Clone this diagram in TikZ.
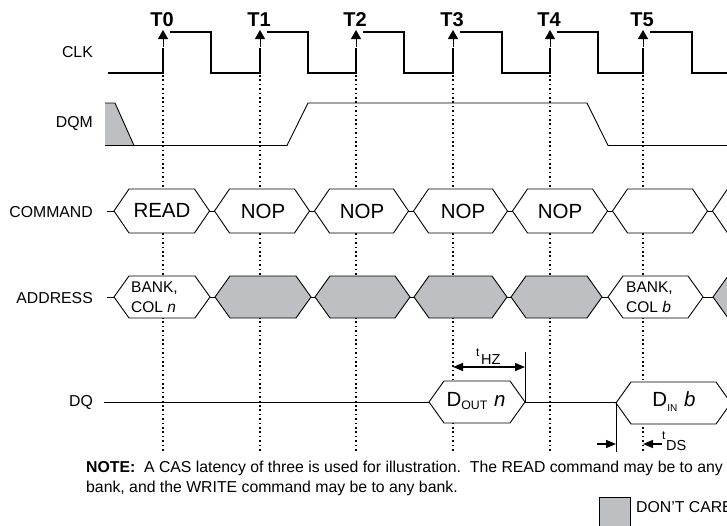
\documentclass[tikz,border=0pt]{standalone}
\usepackage{fontspec}
\setmainfont{Liberation Sans}
\usetikzlibrary{arrows.meta}
\definecolor{dcgray}{RGB}{190,191,194}
\newcommand\hexshape[5]{%
  \filldraw[fill=#5, draw=black, line width=0.9pt] (#1,{(#3+#4)/2}) -- ({#1+15},#3) -- ({#2-15},#3) -- (#2,{(#3+#4)/2}) -- ({#2-15},#4) -- ({#1+15},#4) -- cycle;}
\begin{document}
\begin{tikzpicture}[x=1pt,y=-1pt,
  clk/.style={line width=1.8pt},
  thin/.style={line width=0.9pt},
  dotline/.style={line width=1.5pt, dash pattern=on 1.5pt off 2.9pt},
  edgearrow/.style={line width=0.9pt, -{Triangle[length=9pt,width=10pt]}},
  lbl/.style={font=\fontsize{15.8}{18}\selectfont, anchor=east, inner sep=0pt},
  tlbl/.style={font=\fontsize{20}{22}\selectfont\bfseries, inner sep=0pt},
  cmd/.style={font=\fontsize{20.5}{22}\selectfont, inner sep=0pt},
  addr/.style={font=\fontsize{15.5}{20}\selectfont, anchor=west, align=left, inner sep=0pt},
  note/.style={font=\fontsize{15.8}{18}\selectfont, anchor=base west, inner sep=0pt},
  small/.style={font=\fontsize{14.5}{16}\selectfont, inner sep=0pt},
  tiny/.style={font=\fontsize{12}{12}\selectfont, inner sep=0pt},
  timarrow/.style={line width=1.3pt, -{Triangle[length=10pt,width=8pt]}}
]
\useasboundingbox (0,0) rectangle (727,525);
\clip (0,0) rectangle (727,525);

% dotted reference lines
\foreach \t/\x in {0/163,1/260,2/356,3/453,4/550,5/643}{
  \coordinate (d\t top) at (\x,75);
  \coordinate (d\t bot) at (\x,452);
  \draw[dotline] (d\t top) -- (d\t bot);
}

% signal labels
\node[lbl] (lclk) at (93,52) {CLK};
\node[lbl] (ldqm) at (93,123) {DQM};
\node[lbl] (lcmd) at (93,212) {COMMAND};
\node[lbl] (ladr) at (93,298) {ADDRESS};
\node[lbl] (ldq) at (93,402) {DQ};

% clock
\draw[clk] (108,73) -- (163,73) -- (163,48);
\draw[clk] (170,32) -- (211,32) -- (211,73) -- (260,73) -- (260,48);
\draw[clk] (267,32) -- (308,32) -- (308,73) -- (356,73) -- (356,48);
\draw[clk] (363,32) -- (404,32) -- (404,73) -- (453,73) -- (453,48);
\draw[clk] (460,32) -- (502,32) -- (502,73) -- (550,73) -- (550,48);
\draw[clk] (557,32) -- (598,32) -- (598,73) -- (643,73) -- (643,48);
\draw[clk] (650,32) -- (692,32) -- (692,73) -- (727,73);
\foreach \t/\x in {0/163,1/260,2/356,3/453,4/550,5/643}{
  \coordinate (e\t a) at (\x,47);
  \coordinate (e\t b) at (\x,30);
  \draw[edgearrow] (e\t a) -- (e\t b);
  \node[tlbl] (T\t) at ({\x-1},20) {T\t};
}

% DQM
\fill[dcgray] (105,103) -- (115,103) -- (134,145.5) -- (105,145.5) -- cycle;
\draw[thin] (105,103) -- (115,103) -- (134,145.5) -- (287,145.5) -- (308,103) -- (587,103) -- (608,145.5) -- (727,145.5);
\draw[thin] (105,145.5) -- (134,145.5);

% COMMAND bus
\draw[thin] (107,211) -- (727,211);
\hexshape{114}{209.5}{189}{233}{white}
\hexshape{214.5}{309.5}{189}{233}{white}
\hexshape{314.5}{408.5}{189}{233}{white}
\hexshape{413.5}{507.5}{189}{233}{white}
\hexshape{512.5}{607.5}{189}{233}{white}
\hexshape{612.5}{707.5}{189}{233}{white}
\hexshape{712.5}{810}{189}{233}{white}
\node[cmd] (c0) at (162,210) {READ};
\node[cmd] (c1) at (263,211) {NOP};
\node[cmd] (c2) at (362,211) {NOP};
\node[cmd] (c3) at (463,211) {NOP};
\node[cmd] (c4) at (560,211) {NOP};

% ADDRESS bus
\draw[thin] (107,297) -- (727,297);
\hexshape{114}{210}{276}{318}{white}
\hexshape{215}{311}{276}{318}{dcgray}
\hexshape{315}{410}{276}{318}{dcgray}
\hexshape{414}{507}{276}{318}{dcgray}
\hexshape{511}{602}{276}{318}{dcgray}
\hexshape{608}{703}{276}{318}{white}
\hexshape{713}{810}{276}{318}{dcgray}
\node[addr] (a0) at (131,297) {BANK,\\COL \textit{n}};
\node[addr] (a5) at (626,297) {BANK,\\COL \textit{b}};

% DQ
\draw[thin] (104,402) -- (429,402);
\draw[thin] (525,402) -- (616,402);
\hexshape{429}{525}{381}{423}{white}
\hexshape{616}{731}{382}{424}{white}
\node[cmd] (dout) at (476,401) {D\raisebox{-4pt}{\fontsize{12.3}{13}\selectfont OUT}\,\,\textit{n}};
\node[cmd] (din) at (674,402) {D\raisebox{-5pt}{\fontsize{10}{11}\selectfont IN}\,\,\textit{b}};

% tHZ
\coordinate (hztop) at (525,352);
\coordinate (hzbot) at (525,402);
\draw[thin] (hztop) -- (hzbot);
\coordinate (hzL) at (453,367);
\coordinate (hzR) at (525,367);
\draw[line width=1.3pt, {Triangle[length=10pt,width=8pt]}-{Triangle[length=10pt,width=8pt]}] (hzL) -- (hzR);
\node[tiny, anchor=base west] (thz1) at (476,356) {t};
\node[small, anchor=base west] (thz2) at (481,364) {HZ};

% tDS
\coordinate (dstop) at (616,402);
\coordinate (dsbot) at (616,452);
\draw[thin] (dstop) -- (dsbot);
\coordinate (dsA) at (597,444);
\coordinate (dsB) at (616,444);
\coordinate (dsC) at (662,444);
\coordinate (dsD) at (643,444);
\draw[timarrow] (dsA) -- (dsB);
\draw[timarrow] (dsC) -- (dsD);
\node[tiny, anchor=base west] (tds1) at (662,439) {t};
\node[small, anchor=base west] (tds2) at (666,450) {DS};

% note
\node[note] (n1) at (86,472) {\textbf{NOTE:}\ \ A CAS latency of three is used for illustration.\ \ The READ command may be to any};
\node[note] (n2) at (86,492) {bank, and the WRITE command may be to any bank.};

% legend
\filldraw[fill=dcgray, draw=black, line width=0.8pt] (599,497) rectangle (630,530);
\node[note] (leg) at (636,512) {DON'T CARE};
\end{tikzpicture}
\end{document}
